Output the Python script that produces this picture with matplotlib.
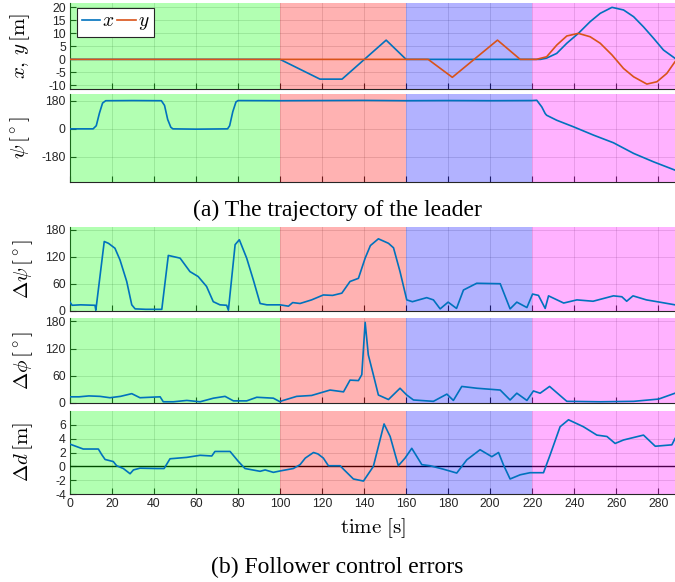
import matplotlib
matplotlib.use("Agg")
import matplotlib.pyplot as plt
from matplotlib.lines import Line2D

plt.rcParams['font.family'] = 'Liberation Sans'
plt.rcParams['mathtext.fontset'] = 'cm'
plt.rcParams['axes.unicode_minus'] = False

BLUE = '#0072BD'
ORANGE = '#D95319'

# phases of the experiment (start, end, colour)
phases = [(0, 100, (0, 1, 0)), (100, 160, (1, 0, 0)),
          (160, 220, (0, 0, 1)), (220, 288, (1, 0, 1))]

# leader x [m]
t_x = [0, 100, 119, 129.5, 150.5, 160, 224, 226.9, 231.7, 236.5, 242, 247.6,
       252.4, 258, 263.5, 268.3, 273, 277.8, 282.5, 288]
v_x = [0, 0, -7.6, -7.6, 7.4, 0, 0, 0.5, 2.3, 6.2, 10, 14.5,
       17.7, 20, 19, 16.4, 12.5, 8.1, 3.6, 0.4]
# leader y [m]
t_y = [0, 170.5, 182, 203.5, 214.3, 222, 226.9, 231.7, 236.5, 242, 247.6,
       252.4, 258, 263.5, 268.3, 274.6, 279.4, 284.1, 288]
v_y = [0, 0, -6.9, 7.4, 0, 0, 1.0, 5.5, 9, 10, 8.7,
       6.2, 1.7, -3.5, -6.7, -9.5, -8.6, -5.4, -0.9]

# leader heading psi [deg]
t_psi = [0, 11, 12.5, 14, 15.5, 17, 30, 43.5, 45, 46.5, 48, 49, 60, 75, 76, 77.5,
         79, 80, 100, 120, 140, 160, 180, 200, 220, 222.2, 224.6, 226.2, 226.9,
         231.7, 239.7, 249.2, 258.7, 268.3, 277.8, 288]
v_psi = [0, 0, 20, 100, 165, 180, 181, 180, 150, 60, 10, 0, -2, 0, 20, 110,
         172, 181, 180, 181, 182, 180, 181, 180, 181, 183, 140, 98, 87,
         55, 13, -40, -89, -157, -211, -264]

# follower heading error [deg]
t_dpsi = [0, 1, 5, 11.9, 12.3, 16.3, 18.3, 21.4, 23.8, 27, 29.4, 31, 36, 43.7,
          46.8, 52.4, 57.1, 61, 65, 68.2, 71.4, 74.6, 75.4, 78.6, 80.6, 84.1, 87.3,
          90.5, 93.7, 100, 104, 106, 109.5, 115, 120.6, 125, 129.4, 133.3, 137.3,
          140.5, 143, 146.8, 151.6, 154, 157.1, 160.3, 163, 169.8, 173, 176.2,
          180, 184, 187.3, 193.6, 204.8, 209.5, 212.7, 217.5, 220.2, 223, 226.2,
          227.8, 235, 241.3, 249, 258.7, 262.7, 265, 268, 274.4, 280.7, 288]
v_dpsi = [19, 12, 13, 12, 1, 154, 150, 139, 113, 65, 13, 4, 3, 3,
          123, 117, 87, 76, 54, 20, 13, 12, 1, 147, 158, 117, 68,
          16, 13, 13, 10, 18, 16, 24, 35, 34, 39, 65, 72,
          117, 145, 160, 150, 140, 87, 24, 20, 29, 24, 4,
          19, 5, 46, 61, 60, 4, 19, 7, 37, 34, 5,
          33, 17, 24, 21, 33, 31, 21, 33, 24, 19, 13]

# follower bearing error [deg]
t_dphi = [0, 4.3, 9, 14.3, 19, 24, 29.4, 33.3, 42.9, 44.4, 49.2, 55.6, 61.9,
          68.3, 73.8, 77.8, 84.1, 88.9, 96.8, 100, 100.8, 107.9, 115, 123.8,
          130.2, 133.3, 137.3, 138.9, 140.5, 142, 144.4, 146.8, 151.6, 157.1,
          160.3, 163.5, 173, 179.4, 182.5, 186.5, 193.7, 204.8, 209.5, 212.7,
          217.5, 220.6, 223.8, 228.3, 236.5, 252.4, 268.3, 280.2, 288]
v_dphi = [13, 13, 15, 14, 11, 14, 20, 11, 13, 2, 2, 5, 2,
          10, 14, 4, 4, 12, 10, 2, 4, 14, 16, 28,
          24, 50, 49, 62, 178, 106, 62, 17, 7, 32,
          17, 6, 3, 19, 5, 36, 32, 28, 6, 21,
          5, 26, 21, 36, 3, 2, 3, 8, 21]

# follower distance error [m]
t_dd = [0, 6.3, 13.5, 15.1, 16.7, 20.6, 22.2, 25.4, 28.6, 30.2, 33.3, 41.3,
        44.8, 47.6, 55.6, 61.9, 67.5, 69, 76.2, 80.2, 83.3, 90.5, 92.9, 96.8,
        100, 106.3, 109.5, 112, 115.9, 118, 120.6, 123, 128.6, 130.2, 134.9,
        139.7, 144.4, 149.5, 152.4, 156.3, 159.5, 162.7, 167.5, 171.4, 177.8,
        184.1, 188.9, 195.2, 200.8, 204, 206.3, 209.5, 214.3, 219, 225.4,
        228.6, 233.3, 237.3, 244.4, 250.8, 255.6, 259.5, 263.5, 273, 278.6,
        286.5, 288]
v_dd = [3.2, 2.5, 2.5, 1.7, 1.0, 0.7, 0.1, -0.3, -1.05, -0.5, -0.25, -0.3,
        -0.3, 1.1, 1.3, 1.6, 1.5, 2.15, 2.15, 0.7, -0.3, -0.7, -0.5, -0.85,
        -0.65, -0.3, 0.25, 1.2, 2.0, 1.8, 1.2, 0.1, 0.1, -0.4, -1.8,
        -2.1, 0, 6.1, 4.3, 0.1, 1.2, 2.6, 0.25, 0.1, -0.4,
        -0.95, 0.95, 2.4, 1.4, 2.0, 0.25, -1.8, -1.2, -0.9, -0.9,
        1.7, 5.7, 6.7, 5.7, 4.5, 4.3, 3.3, 3.8, 4.5, 2.9,
        3.1, 4.0]

fig = plt.figure(figsize=(6.75, 5.82), dpi=100)
L, W = 70 / 675, 605 / 675
rects = [(0.8466, 0.1488), (0.6878, 0.1507), (0.4662, 0.1443),
         (0.3081, 0.1450), (0.1507, 0.1436)]
axes = [fig.add_axes([L, b, W, h]) for b, h in rects]

for ax in axes:
    ax.set_xlim(0, 288)
    ax.set_xticks(range(0, 281, 20))
    for a, b, c in phases:
        ax.axvspan(a, b, color=c, alpha=0.3, lw=0, zorder=2.6)
    ax.grid(True, color='0.15', alpha=0.15, lw=0.7)
    ax.tick_params(direction='in', length=4, width=0.8, colors='0.15',
                   labelsize=8.8, labelcolor='0.15', pad=3)
    ax.spines['top'].set_visible(False)
    ax.spines['right'].set_visible(False)
    for s in ('left', 'bottom'):
        ax.spines[s].set_color('0.15')
        ax.spines[s].set_linewidth(0.8)
    if ax is not axes[-1]:
        ax.tick_params(labelbottom=False)

lw = 1.2
ax = axes[0]
ax.plot(t_x, v_x, color=BLUE, lw=lw, zorder=3)
ax.plot(t_y, v_y, color=ORANGE, lw=lw, zorder=3)
ax.set_ylim(-11.5, 21.8)
ax.set_yticks([-10, -5, 0, 5, 10, 15, 20])
ax.set_ylabel(r'$x,\, y\,[\mathrm{m}]$', fontsize=15)
leg = ax.legend([Line2D([], [], color=BLUE, lw=lw), Line2D([], [], color=ORANGE, lw=lw)],
                [r'$x$', r'$y$'], ncol=2, loc='upper left', bbox_to_anchor=(0.011, 0.94),
                borderaxespad=0, fontsize=14, handlelength=0.95, handletextpad=0.1,
                columnspacing=0.15, borderpad=0.25, fancybox=False, framealpha=1,
                edgecolor='0.15')
leg.get_frame().set_linewidth(0.8)
leg.set_zorder(5)

ax = axes[1]
ax.plot(t_psi, v_psi, color=BLUE, lw=lw, zorder=3)
ax.set_ylim(-338, 223)
ax.set_yticks([-180, 0, 180])
ax.set_ylabel(r'$\psi\,[^\circ]$', fontsize=15)

ax = axes[2]
ax.plot(t_dpsi, v_dpsi, color=BLUE, lw=lw, zorder=3)
ax.set_ylim(0, 187)
ax.set_yticks([0, 60, 120, 180])
ax.set_ylabel(r'$\Delta\psi\,[^\circ]$', fontsize=15)

ax = axes[3]
ax.plot(t_dphi, v_dphi, color=BLUE, lw=lw, zorder=3)
ax.set_ylim(0, 187)
ax.set_yticks([0, 60, 120, 180])
ax.set_ylabel(r'$\Delta\phi\,[^\circ]$', fontsize=15)

ax = axes[4]
ax.axhline(0, color='k', lw=1, zorder=2.55)
ax.plot(t_dd, v_dd, color=BLUE, lw=lw, zorder=3)
ax.set_ylim(-4, 8)
ax.set_yticks([-4, -2, 0, 2, 4, 6])
ax.set_ylabel(r'$\Delta d\,[\mathrm{m}]$', fontsize=15)
ax.set_xlabel(r'$\mathrm{time}\ [\mathrm{s}]$', fontsize=15)
ax.xaxis.set_label_coords(0.5, -0.40)
ax.xaxis.label.set_va('center')

for ax, xc in zip(axes, [-0.083, -0.083, -0.078, -0.078, -0.078]):
    ax.yaxis.set_label_coords(xc, 0.5)
    ax.yaxis.label.set_va('center')

fig.text(0.5, 1 - 210 / 582, '(a) The trajectory of the leader', family='Liberation Serif',
         fontsize=17, ha='center', va='center')
fig.text(0.5, 1 - 567 / 582, '(b) Follower control errors', family='Liberation Serif',
         fontsize=17, ha='center', va='center')

fig.savefig('out.png', dpi=100)
